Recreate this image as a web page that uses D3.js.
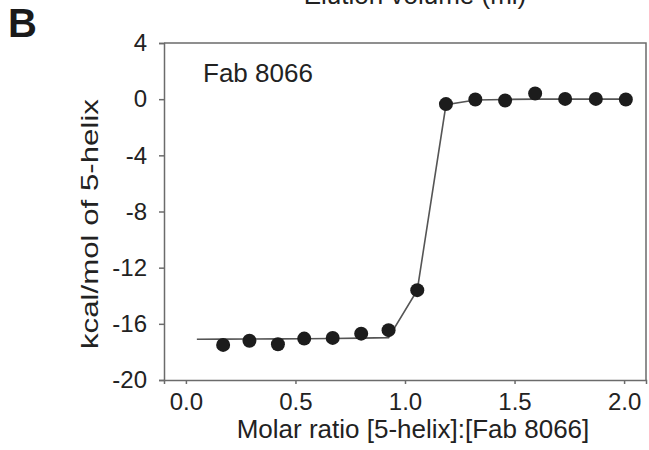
<!DOCTYPE html>
<html>
<head>
<meta charset="utf-8">
<script src="https://cdn.jsdelivr.net/npm/d3@7"></script>
<style>
  body { margin: 0; background: #fff; }
  svg { display: block; font-family: "Liberation Sans", Arial, Helvetica, sans-serif; }
  .axis path, .axis line { stroke: #6b6b6b; stroke-width: 1.5; }
  .axis text { fill: #222; }
</style>
</head>
<body>
<div id="vis"></div>
<script>
const FRAME_HEIGHT = 450;
const FRAME_WIDTH = 649;
const MARGINS = {left: 164, right: 3, top: 43, bottom: 70};

const VIS_HEIGHT = FRAME_HEIGHT - MARGINS.top - MARGINS.bottom;
const VIS_WIDTH = FRAME_WIDTH - MARGINS.left - MARGINS.right;

// injection points (molar ratio, kcal/mol)
const ratio = [0.17, 0.29, 0.42, 0.54, 0.67, 0.80, 0.925, 1.056, 1.187, 1.321, 1.457, 1.594, 1.731, 1.871, 2.008];
const heat = [-17.5, -17.2, -17.45, -17.05, -17.0, -16.7, -16.45, -13.6, -0.35, -0.02, -0.1, 0.4, 0.02, 0.02, -0.02];

// fitted curve
const fitRatio = [0.05, 0.17, 0.29, 0.42, 0.54, 0.67, 0.80, 0.925, 1.056, 1.187, 1.321, 1.457, 1.594, 1.731, 1.871, 2.01];
const fitHeat = [-17.1, -17.09, -17.08, -17.07, -17.06, -17.04, -17.02, -16.98, -13.6, -0.4, -0.06, -0.02, 0, 0, 0, 0];

const xTicks = [0.0, 0.5, 1.0, 1.5, 2.0];
const yTicks = [-20, -16, -12, -8, -4, 0, 4];

const SVG = d3.select("#vis")
  .append("svg")
    .attr("width", FRAME_WIDTH)
    .attr("height", FRAME_HEIGHT);

const X_SCALE = d3.scaleLinear()
  .domain([-0.1, 2.1])
  .range([0, VIS_WIDTH]);

const Y_SCALE = d3.scaleLinear()
  .domain([-20, 4])
  .range([VIS_HEIGHT, 0]);

const G = SVG.append("g")
  .attr("transform", "translate(" + MARGINS.left + "," + MARGINS.top + ")");

// top + right frame
G.append("path")
  .attr("d", "M0,0H" + VIS_WIDTH + "V" + VIS_HEIGHT)
  .attr("fill", "none")
  .attr("stroke", "#6b6b6b")
  .attr("stroke-width", 1.5);

G.append("g")
  .attr("class", "axis")
  .attr("transform", "translate(0," + VIS_HEIGHT + ")")
  .call(d3.axisBottom(X_SCALE).tickValues(xTicks).tickFormat(d3.format(".1f"))
        .tickSizeOuter(0).tickSize(4).tickPadding(9))
  .attr("font-size", "24px")
  .attr("font-family", null);

// plain hyphen for negatives, like the original
G.append("g")
  .attr("class", "axis")
  .call(d3.axisLeft(Y_SCALE).tickValues(yTicks).tickFormat((d) => String(d))
        .tickSizeOuter(0).tickSize(5).tickPadding(12))
  .attr("font-size", "24px")
  .attr("font-family", null);

// fit line
const line = d3.line()
  .x((d, i) => X_SCALE(fitRatio[i]))
  .y((d, i) => Y_SCALE(fitHeat[i]));

G.append("path")
  .datum(fitRatio)
  .attr("d", line)
  .attr("fill", "none")
  .attr("stroke", "#555")
  .attr("stroke-width", 1.6);

G.selectAll("circle")
  .data(ratio)
  .enter()
  .append("circle")
    .attr("cx", (d) => X_SCALE(d))
    .attr("cy", (d, i) => Y_SCALE(heat[i]))
    .attr("r", 7)
    .attr("fill", "#1c1c1c");

G.append("text")
  .attr("x", 39)
  .attr("y", 39)
  .attr("font-size", "26px")
  .attr("fill", "#222")
  .text("Fab 8066");

// axis titles
SVG.append("text")
  .attr("x", 413)
  .attr("y", 438)
  .attr("text-anchor", "middle")
  .attr("font-size", "26px")
  .attr("fill", "#222")
  .text("Molar ratio [5-helix]:[Fab 8066]");

SVG.append("text")
  .attr("transform", "translate(98,224) rotate(-90)")
  .attr("text-anchor", "middle")
  .attr("font-size", "24px")
  .attr("fill", "#222")
  .attr("textLength", 250)
  .attr("lengthAdjust", "spacingAndGlyphs")
  .text("kcal/mol of 5-helix");

// panel letter and clipped title from panel above
SVG.append("text")
  .attr("x", 8)
  .attr("y", 37)
  .attr("font-size", "40px")
  .attr("font-weight", "bold")
  .attr("fill", "#1a1a1a")
  .text("B");

SVG.append("text")
  .attr("x", 415)
  .attr("y", 4)
  .attr("text-anchor", "middle")
  .attr("font-size", "26px")
  .attr("fill", "#222")
  .text("Elution volume (ml)");
</script>
</body>
</html>
